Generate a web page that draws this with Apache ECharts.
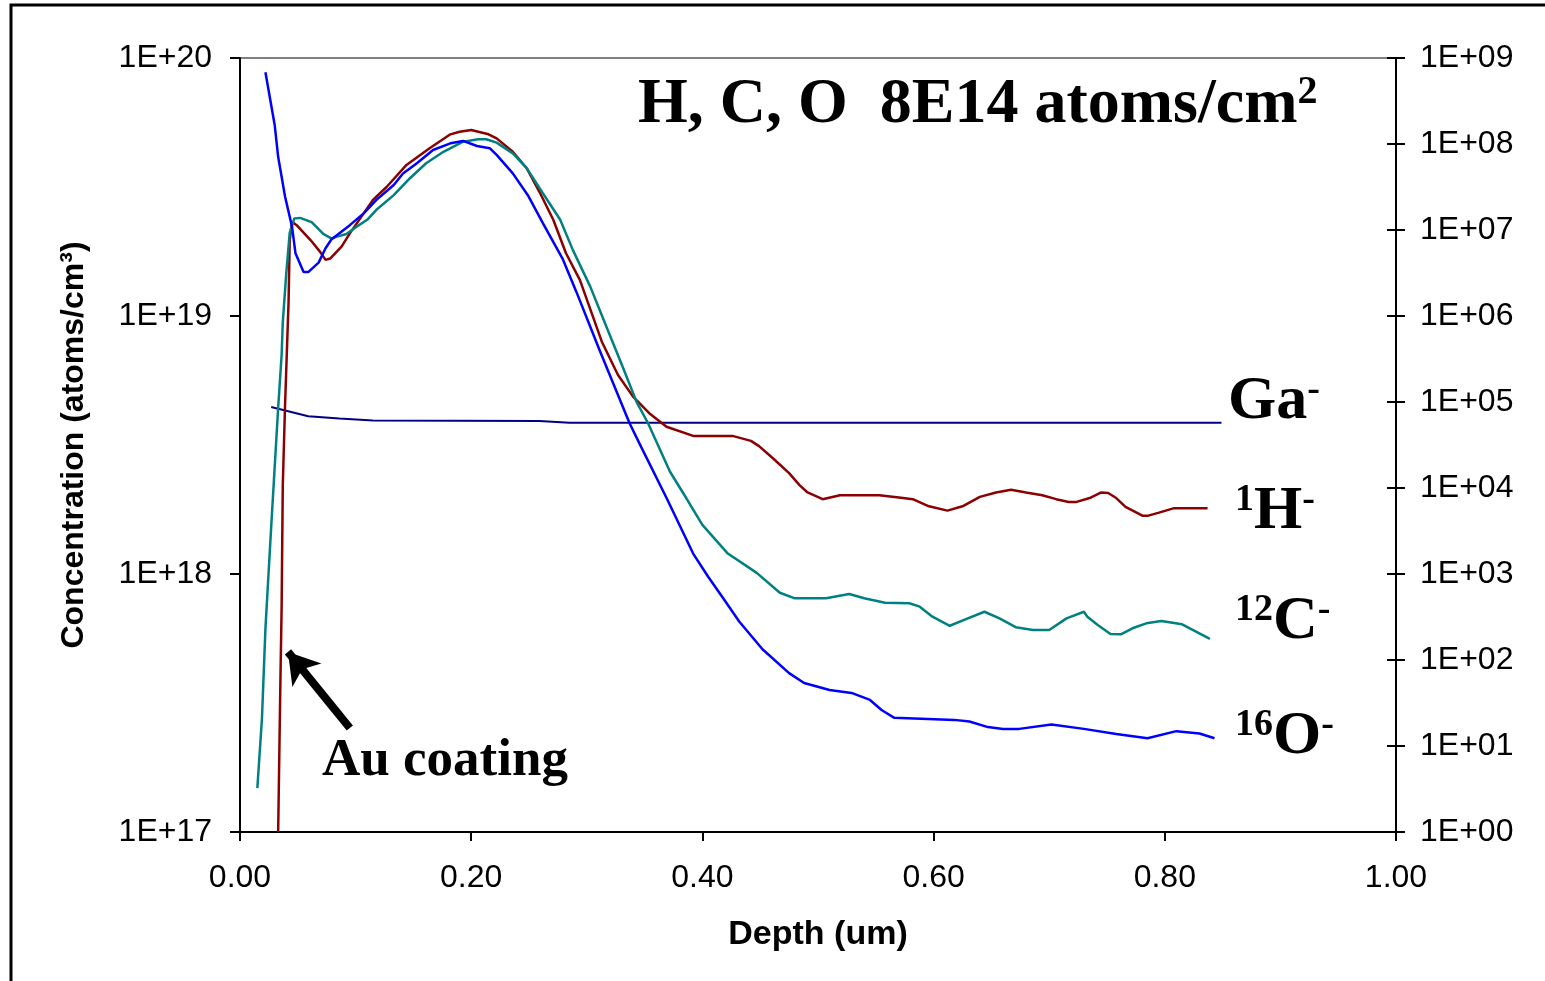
<!DOCTYPE html>
<html>
<head>
<meta charset="utf-8">
<script src="https://cdn.jsdelivr.net/npm/echarts@6/dist/echarts.min.js"></script>
<style>
  html, body { margin: 0; padding: 0; background: #fff; }
  #chart { width: 1545px; height: 981px; }
</style>
</head>
<body>
<div id="chart"></div>
<script>
// depth (um) and concentration (atoms/cm3), read from the SIMS profile
const oxygenDepth = [0.022, 0.030, 0.033, 0.039, 0.045, 0.048, 0.055, 0.059, 0.068, 0.074, 0.079, 0.095, 0.107, 0.118, 0.133, 0.141, 0.153, 0.167, 0.182, 0.193, 0.205, 0.216, 0.222, 0.236, 0.249, 0.262, 0.279, 0.291, 0.311, 0.337, 0.347, 0.369, 0.392, 0.405, 0.418, 0.432, 0.452, 0.475, 0.488, 0.510, 0.529, 0.545, 0.555, 0.566, 0.618, 0.631, 0.647, 0.660, 0.674, 0.702, 0.730, 0.758, 0.785, 0.810, 0.830, 0.843];
const oxygenConc = [8.8e19, 5.5e19, 4.14e19, 2.9e19, 2.22e19, 1.75e19, 1.48e19, 1.48e19, 1.61e19, 1.83e19, 1.98e19, 2.25e19, 2.5e19, 2.82e19, 3.22e19, 3.57e19, 3.91e19, 4.4e19, 4.67e19, 4.77e19, 4.56e19, 4.47e19, 4.21e19, 3.57e19, 2.94e19, 2.29e19, 1.67e19, 1.24e19, 7.38e18, 3.84e18, 3.11e18, 1.97e18, 1.2e18, 9.76e17, 8.05e17, 6.53e17, 5.11e17, 4.13e17, 3.78e17, 3.55e17, 3.46e17, 3.25e17, 2.97e17, 2.77e17, 2.72e17, 2.68e17, 2.55e17, 2.51e17, 2.51e17, 2.61e17, 2.51e17, 2.4e17, 2.31e17, 2.46e17, 2.41e17, 2.31e17];

const hydrogenDepth = [0.033, 0.035, 0.036, 0.037, 0.039, 0.042, 0.043, 0.045, 0.049, 0.061, 0.069, 0.074, 0.078, 0.088, 0.095, 0.104, 0.115, 0.127, 0.144, 0.164, 0.182, 0.190, 0.200, 0.215, 0.222, 0.236, 0.248, 0.259, 0.271, 0.282, 0.294, 0.313, 0.327, 0.340, 0.354, 0.369, 0.392, 0.426, 0.442, 0.449, 0.461, 0.475, 0.484, 0.491, 0.504, 0.519, 0.553, 0.570, 0.582, 0.596, 0.612, 0.625, 0.640, 0.654, 0.667, 0.680, 0.694, 0.706, 0.717, 0.723, 0.735, 0.745, 0.751, 0.758, 0.766, 0.781, 0.785, 0.795, 0.808, 0.837];
const hydrogenConc = [1.0e17, 3.97e17, 7.38e17, 2.2e18, 4.56e18, 1.13e19, 1.96e19, 2.32e19, 2.25e19, 1.97e19, 1.78e19, 1.65e19, 1.67e19, 1.86e19, 2.09e19, 2.39e19, 2.82e19, 3.17e19, 3.85e19, 4.47e19, 5.06e19, 5.18e19, 5.26e19, 5.06e19, 4.88e19, 4.33e19, 3.74e19, 3.03e19, 2.36e19, 1.75e19, 1.38e19, 7.95e18, 5.91e18, 4.87e18, 4.2e18, 3.72e18, 3.43e18, 3.43e18, 3.28e18, 3.13e18, 2.81e18, 2.46e18, 2.21e18, 2.07e18, 1.95e18, 2.02e18, 2.02e18, 1.98e18, 1.95e18, 1.83e18, 1.76e18, 1.83e18, 1.99e18, 2.07e18, 2.12e18, 2.07e18, 2.02e18, 1.95e18, 1.9e18, 1.9e18, 1.97e18, 2.07e18, 2.06e18, 1.97e18, 1.82e18, 1.68e18, 1.68e18, 1.73e18, 1.8e18, 1.8e18];

const carbonDepth = [0.015, 0.019, 0.022, 0.027, 0.033, 0.036, 0.037, 0.040, 0.043, 0.047, 0.052, 0.062, 0.068, 0.072, 0.079, 0.084, 0.092, 0.099, 0.110, 0.118, 0.133, 0.147, 0.161, 0.176, 0.193, 0.206, 0.213, 0.222, 0.236, 0.248, 0.262, 0.277, 0.288, 0.303, 0.321, 0.331, 0.343, 0.353, 0.372, 0.386, 0.400, 0.422, 0.447, 0.467, 0.480, 0.507, 0.527, 0.540, 0.558, 0.579, 0.588, 0.599, 0.614, 0.628, 0.644, 0.657, 0.671, 0.686, 0.700, 0.715, 0.730, 0.733, 0.742, 0.753, 0.762, 0.772, 0.784, 0.797, 0.815, 0.839];
const carbonConc = [1.48e17, 2.76e17, 6.14e17, 1.53e18, 4.4e18, 7.06e18, 9.45e18, 1.46e19, 2.1e19, 2.39e19, 2.4e19, 2.31e19, 2.17e19, 2.08e19, 2.0e19, 2.03e19, 2.08e19, 2.19e19, 2.36e19, 2.58e19, 2.94e19, 3.42e19, 3.91e19, 4.33e19, 4.74e19, 4.84e19, 4.84e19, 4.7e19, 4.27e19, 3.74e19, 2.99e19, 2.36e19, 1.8e19, 1.3e19, 8.2e18, 6.36e18, 4.65e18, 3.84e18, 2.49e18, 1.97e18, 1.55e18, 1.2e18, 1.01e18, 8.46e17, 8.05e17, 8.05e17, 8.36e17, 8.05e17, 7.74e17, 7.7e17, 7.47e17, 6.83e17, 6.3e17, 6.69e17, 7.14e17, 6.73e17, 6.22e17, 6.07e17, 6.07e17, 6.73e17, 7.14e17, 6.83e17, 6.34e17, 5.85e17, 5.84e17, 6.16e17, 6.44e17, 6.57e17, 6.38e17, 5.61e17];

// Ga- counts on the secondary axis
const galliumDepth = [0.027, 0.059, 0.086, 0.115, 0.259, 0.285, 0.849];
const galliumCounts = [8.75e4, 6.82e4, 6.43e4, 6.11e4, 6.01e4, 5.72e4, 5.72e4];

// arrow pointing at the Au coating edge
const arrowFrom = [0.095, 2.53e17];
const arrowTo = [0.0415, 4.99e17];

const leftTicks = ['1E+17', '1E+18', '1E+19', '1E+20'];
const xTicks = ['0.00', '0.20', '0.40', '0.60', '0.80', '1.00'];

function zip(xs, ys) {
  return xs.map(function (x, i) { return [x, ys[i]]; });
}

function sciLabel(v) {
  const e = Math.round(Math.log10(v));
  return '1E+' + String(e).padStart(2, '0');
}

const chart = echarts.init(document.getElementById('chart'));

const serif = 'Liberation Serif';
const sans = 'Liberation Sans';
const supRich = {
  b: { fontFamily: serif, fontWeight: 'bold', fontSize: 62, lineHeight: 62 },
  s: { fontFamily: serif, fontWeight: 'bold', fontSize: 38, lineHeight: 38, verticalAlign: 'top' }
};
const titleRich = {
  b: { fontFamily: serif, fontWeight: 'bold', fontSize: 64, lineHeight: 64 },
  s: { fontFamily: serif, fontWeight: 'bold', fontSize: 40, lineHeight: 40, verticalAlign: 'top' }
};

function label(x, y, text, rich) {
  return {
    type: 'text', left: x, top: y, z: 100,
    style: { text: text, rich: rich || supRich, fill: '#000', font: 'bold 62px ' + serif }
  };
}

const option = {
  animation: false,
  backgroundColor: '#fff',
  grid: { left: 240, right: 149, top: 58, bottom: 149, show: true, borderColor: '#808080', borderWidth: 2 },
  xAxis: {
    type: 'value', min: 0, max: 1, interval: 0.2,
    name: 'Depth (um)', nameLocation: 'middle', nameGap: 86,
    nameTextStyle: { fontFamily: sans, fontWeight: 'bold', fontSize: 34, color: '#000' },
    axisLine: { lineStyle: { color: '#000', width: 2 } },
    axisTick: { length: 9, lineStyle: { color: '#000', width: 2 } },
    axisLabel: {
      fontFamily: sans, fontSize: 32, color: '#000', margin: 30,
      formatter: function (v) { return xTicks[Math.round(v / 0.2)]; }
    },
    splitLine: { show: false }
  },
  yAxis: [
    {
      type: 'log', logBase: 10, min: 1e17, max: 1e20, interval: 1, position: 'left',
      name: 'Concentration (atoms/cm³)', nameLocation: 'middle', nameGap: 150, nameRotate: 90,
      nameTextStyle: { fontFamily: sans, fontWeight: 'bold', fontSize: 32, color: '#000' },
      axisLine: { show: true, lineStyle: { color: '#000', width: 2 } },
      axisTick: { show: true, length: 10, lineStyle: { color: '#000', width: 2 } },
      axisLabel: {
        fontFamily: sans, fontSize: 32, color: '#000', margin: 28,
        formatter: function (v) { return leftTicks[Math.round(Math.log10(v)) - 17]; }
      },
      splitLine: { show: false }
    },
    {
      type: 'log', logBase: 10, min: 1, max: 1e9, interval: 1, position: 'right',
      axisLine: { show: true, lineStyle: { color: '#000', width: 2 } },
      axisTick: { show: true, length: 9, lineStyle: { color: '#000', width: 2 } },
      axisLabel: { fontFamily: sans, fontSize: 32, color: '#000', margin: 24, formatter: sciLabel },
      splitLine: { show: false }
    },
    {
      // inside half of the crossing ticks on the right axis
      type: 'log', logBase: 10, min: 1, max: 1e9, interval: 1, position: 'right',
      axisLine: { show: false },
      axisTick: { show: true, inside: true, length: 9, lineStyle: { color: '#000', width: 2 } },
      axisLabel: { show: false },
      splitLine: { show: false }
    }
  ],
  series: [
    {
      name: 'Ga-', type: 'line', yAxisIndex: 1, data: zip(galliumDepth, galliumCounts),
      showSymbol: false, lineStyle: { color: '#000080', width: 2 }, z: 3
    },
    {
      name: '1H-', type: 'line', data: zip(hydrogenDepth, hydrogenConc),
      showSymbol: false, lineStyle: { color: '#8B0000', width: 2.5 }, z: 4
    },
    {
      name: '12C-', type: 'line', data: zip(carbonDepth, carbonConc),
      showSymbol: false, lineStyle: { color: '#008080', width: 2.5 }, z: 5
    },
    {
      name: '16O-', type: 'line', data: zip(oxygenDepth, oxygenConc),
      showSymbol: false, lineStyle: { color: '#0000FF', width: 2.5 }, z: 6,
      markLine: {
        silent: true, animation: false,
        symbol: ['none', 'arrow'], symbolSize: [28, 30],
        label: { show: false },
        lineStyle: { color: '#000', width: 8, type: 'solid' },
        data: [[{ coord: arrowFrom }, { coord: arrowTo }]]
      }
    }
  ],
  graphic: [
    {
      type: 'rect', z: 100, silent: true,
      shape: { x: 11, y: 5, width: 1700, height: 1100 },
      style: { fill: 'none', stroke: '#000', lineWidth: 3 }
    },
    label(638, 73, '{b|H, C, O  8E14 atoms/cm}{s|2}', titleRich),
    label(1228, 371, '{b|Ga}{s|-}'),
    label(1235, 481, '{s|1}{b|H}{s|-}'),
    label(1235, 591, '{s|12}{b|C}{s|-}'),
    label(1235, 706, '{s|16}{b|O}{s|-}'),
    {
      type: 'text', left: 322, top: 735, z: 100,
      style: { text: 'Au coating', fill: '#000', font: 'bold 53px ' + serif }
    }
  ]
};

chart.setOption(option);
</script>
</body>
</html>
